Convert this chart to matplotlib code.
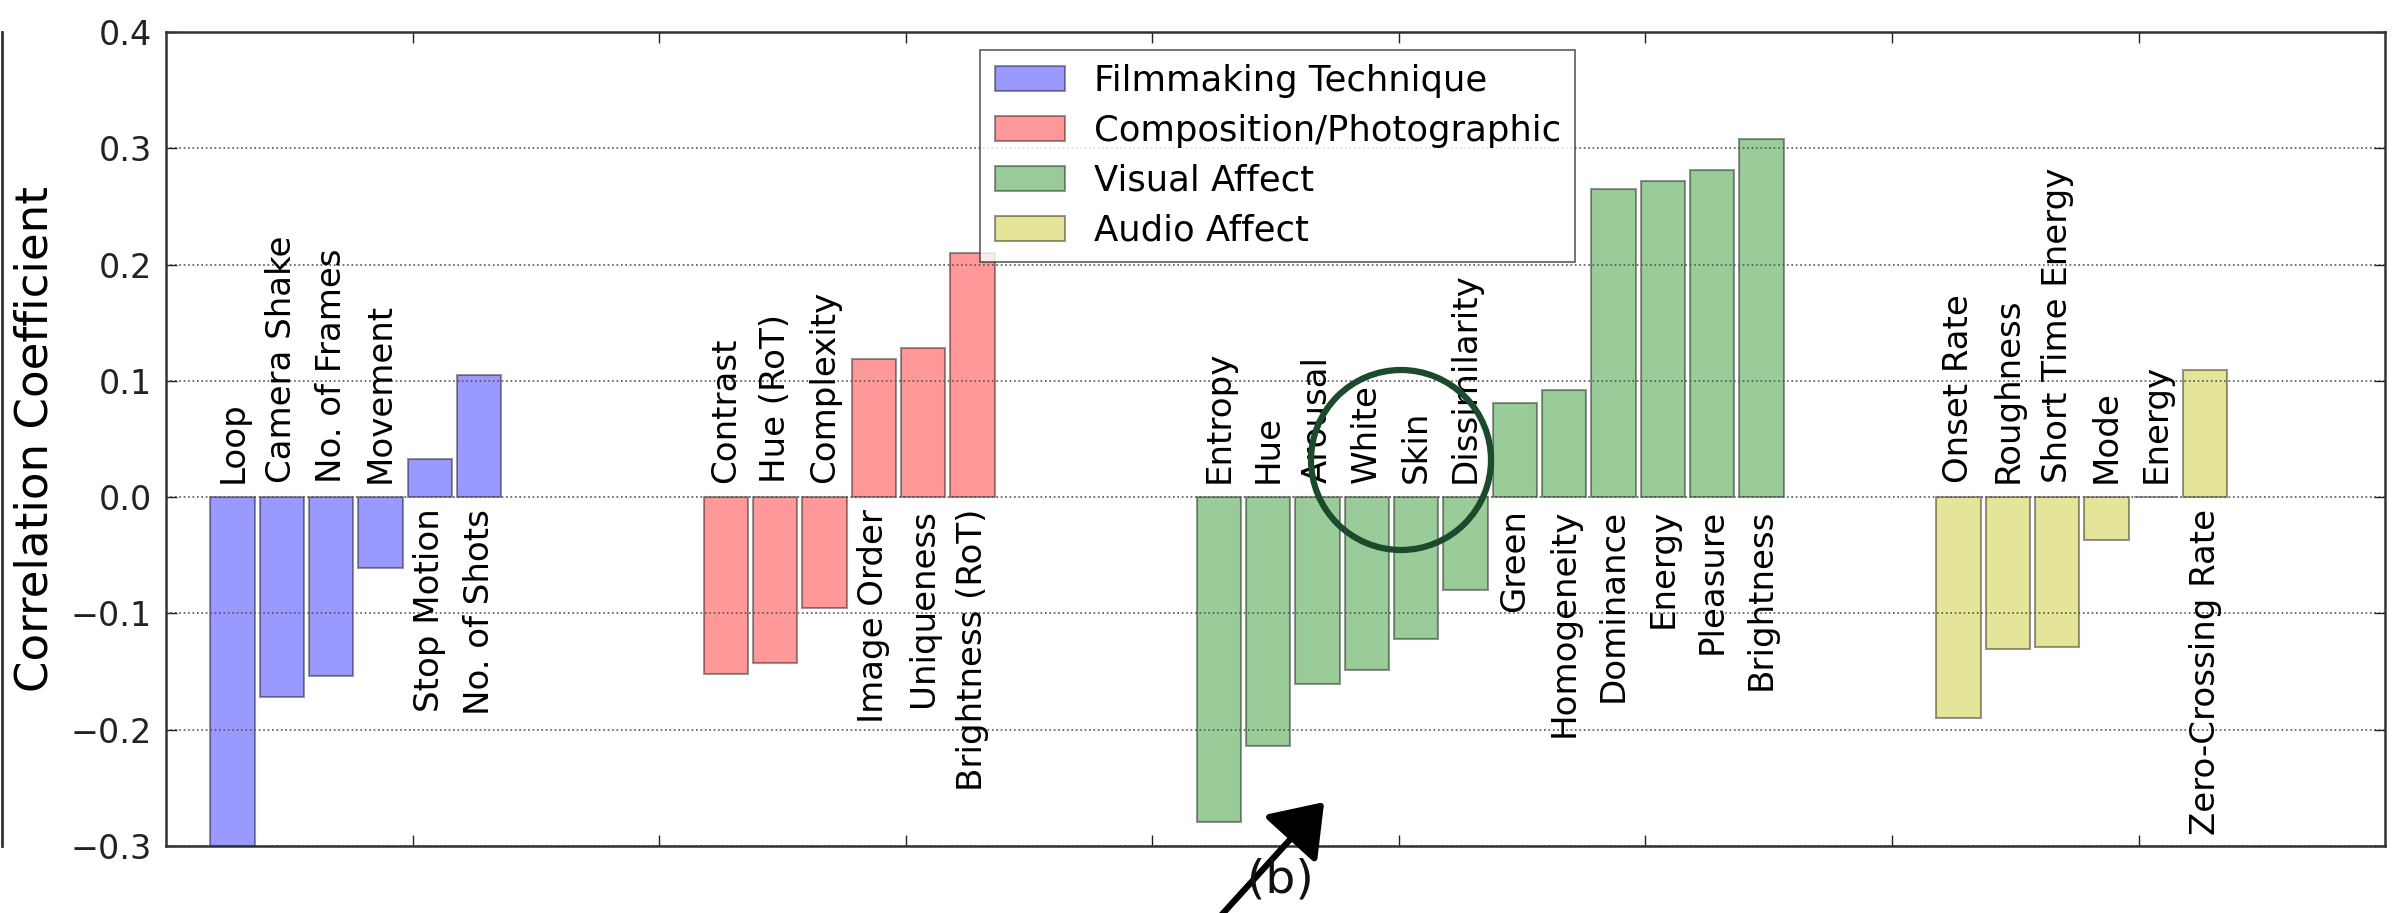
import matplotlib
matplotlib.use("Agg")
import matplotlib.pyplot as plt
import numpy as np
from matplotlib.patches import Ellipse, FancyArrowPatch
from matplotlib.lines import Line2D

# --- Data ---
film_labels = ["Loop", "Camera Shake", "No. of Frames", "Movement", "Stop Motion", "No. of Shots"]
film_values = [-0.300, -0.172, -0.154, -0.061, 0.033, 0.105]

comp_labels = ["Contrast", "Hue (RoT)", "Complexity", "Image Order", "Uniqueness", "Brightness (RoT)"]
comp_values = [-0.152, -0.143, -0.095, 0.119, 0.128, 0.210]

visual_labels = ["Entropy", "Hue", "Arousal", "White", "Skin", "Dissimilarity",
                 "Green", "Homogeneity", "Dominance", "Energy", "Pleasure", "Brightness"]
visual_values = [-0.279, -0.214, -0.161, -0.149, -0.122, -0.080,
                 0.081, 0.092, 0.265, 0.272, 0.281, 0.308]

audio_labels = ["Onset Rate", "Roughness", "Short Time Energy", "Mode", "Energy", "Zero-Crossing Rate"]
audio_values = [-0.190, -0.131, -0.129, -0.037, 0.0, 0.109]

group_names = ["Filmmaking Technique", "Composition/Photographic", "Visual Affect", "Audio Affect"]
group_colors = ["b", "r", "g", "y"]

groups = [(film_labels, film_values), (comp_labels, comp_values),
          (visual_labels, visual_values), (audio_labels, audio_values)]
gaps = [0, 4, 4, 3]  # empty slots before each group

# --- Plot ---
fig = plt.figure(figsize=(24, 9.13), dpi=100)
ax = fig.add_axes([0.0692, 0.0734, 0.9246, 0.8916])

width = 0.9
slot = 0
for (labels, values), gap, color, name in zip(groups, gaps, group_colors, group_names):
    slot += gap
    x = slot + np.arange(len(values)) + 0.9
    ax.bar(x, values, width, align="edge", color=color, alpha=0.4,
           edgecolor="k", linewidth=1.5, label=name)
    for xi, v, lab in zip(x, values, labels):
        if v <= 0:
            ax.text(xi + width / 2, 0.012, lab, rotation=90, ha="center",
                    va="bottom", fontsize=24.5)
        else:
            ax.text(xi + width / 2, -0.010, lab, rotation=90, ha="center",
                    va="top", fontsize=24.5)
    slot += len(values)

ax.set_xlim(0, 45)
ax.set_ylim(-0.3, 0.4)
ax.set_xticks(np.arange(5, 45, 5))
ax.set_xticklabels([])
ax.set_yticks(np.arange(-0.3, 0.41, 0.1))
ax.set_yticklabels(["\u22120.3", "\u22120.2", "\u22120.1", "0.0", "0.1", "0.2", "0.3", "0.4"])
ax.tick_params(direction="in", top=True, right=True, length=8, width=1,
               labelsize=24, pad=10, colors="#222222")
ax.yaxis.grid(True, linestyle=":", color="#555555", linewidth=1.2)
ax.set_ylabel("Correlation Coefficient", fontsize=32.5, labelpad=10)
for s in ax.spines.values():
    s.set_linewidth(1.8)
    s.set_color("#333333")

leg = ax.legend(loc="upper left", bbox_to_anchor=(0.367, 0.978), borderaxespad=0,
                fontsize=25.5, fancybox=False, edgecolor="#333333",
                handlelength=2.0, labelspacing=0.45)
leg.get_frame().set_linewidth(1.2)

# --- Overlay marks from the source figure ---
W, H = 2400, 913
fig.add_artist(Ellipse((1401 / W, 1 - 460 / H), 180 / W, 180 / H, transform=fig.transFigure,
                       fill=False, edgecolor="#1b4a2c", linewidth=4.5))
fig.text(1280 / W, 1 - 880 / H, "(b)", fontsize=34, ha="center", va="center", color="#111111")
fig.add_artist(FancyArrowPatch((1215 / W, -0.01), (1326 / W, 1 - 800 / H),
                               transform=fig.transFigure, arrowstyle="-|>,head_length=14,head_width=10",
                               mutation_scale=2.2, linewidth=4.5, color="k"))
fig.add_artist(Line2D([2 / W, 2 / W], [1 - 846 / H, 1 - 32 / H], transform=fig.transFigure,
                      color="#333333", linewidth=2))

fig.savefig("out.png", dpi=100)
